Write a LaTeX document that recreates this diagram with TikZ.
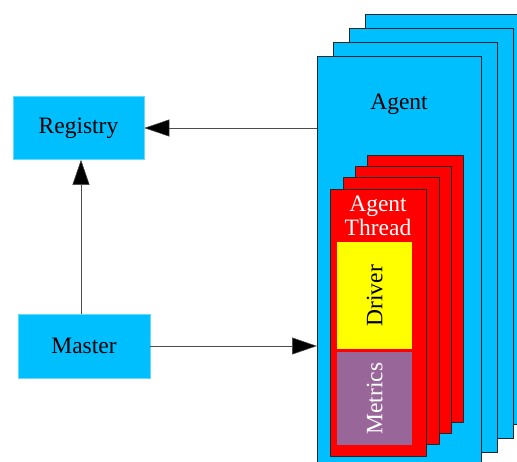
\documentclass[tikz,border=0pt]{standalone}
\usepackage{fontspec}
\setmainfont{Liberation Serif}
\usetikzlibrary{arrows.meta}
\definecolor{skyfill}{RGB}{0,191,255}
\definecolor{threadred}{RGB}{255,0,0}
\definecolor{driveryellow}{RGB}{255,255,0}
\definecolor{metricspurple}{RGB}{153,102,153}
\begin{document}
\begin{tikzpicture}[x=1pt,y=-1pt,
  label font/.style={font=\fontsize{23.5}{25}\selectfont},
  plainbox/.style={fill=skyfill, draw=skyfill!60, line width=0.5pt, label font},
  agentbox/.style={fill=skyfill, draw=black!85, line width=1.3pt, anchor=north west,
                   minimum width=164pt, minimum height=410pt, inner sep=0pt},
  threadbox/.style={fill=threadred, draw=black!85, line width=1.3pt, anchor=north west,
                    minimum width=96pt, minimum height=267pt, inner sep=0pt},
  partbox/.style={draw=none, anchor=north west, minimum width=75pt, inner sep=0pt},
  link/.style={draw=black!70, line width=1pt,
               -{Triangle[length=25pt,width=17pt,fill=black,line width=0.5pt]}}
]
\useasboundingbox (0,0) rectangle (517,461);
\clip (0,0) rectangle (517,461);

% stacked agents, back to front
\node[agentbox] (agent4) at (365,14) {};
\node[agentbox] (agent3) at (349,28) {};
\node[agentbox] (agent2) at (333,42) {};
\node[agentbox] (agent) at (317,56) {};
\node[label font] (agentlabel) at (399,104) {Agent};

% stacked agent threads, back to front
\node[threadbox] (thread4) at (367,155) {};
\node[threadbox] (thread3) at (355,166) {};
\node[threadbox] (thread2) at (343,177) {};
\node[threadbox] (thread) at (330,189) {};
\node[label font, text=white, align=center, inner sep=0pt] (threadlabel) at (378,216)
  {Agent\\[-1pt]Thread};

% parts of the thread
\node[partbox, fill=driveryellow, minimum height=107pt] (driver) at (337,242) {};
\node[label font, rotate=90] at (driver.center) {Driver};
\node[partbox, fill=metricspurple, minimum height=93pt] (metrics) at (337,352) {};
\node[label font, rotate=90, text=white] at (metrics.center) {Metrics};

% registry and master
\node[plainbox, minimum width=131pt, minimum height=63pt] (registry) at (78.5,128) {Registry};
\node[plainbox, minimum width=132pt, minimum height=64pt] (master) at (84,346) {Master};

% connectors
\draw[link] (agent.west |- registry.east) -- (registry.east);
\draw[link] (master.north -| 81,0) -- (registry.south -| 81,0);
\draw[link] (master.east) -- (agent.west |- master.east);
\end{tikzpicture}
\end{document}
